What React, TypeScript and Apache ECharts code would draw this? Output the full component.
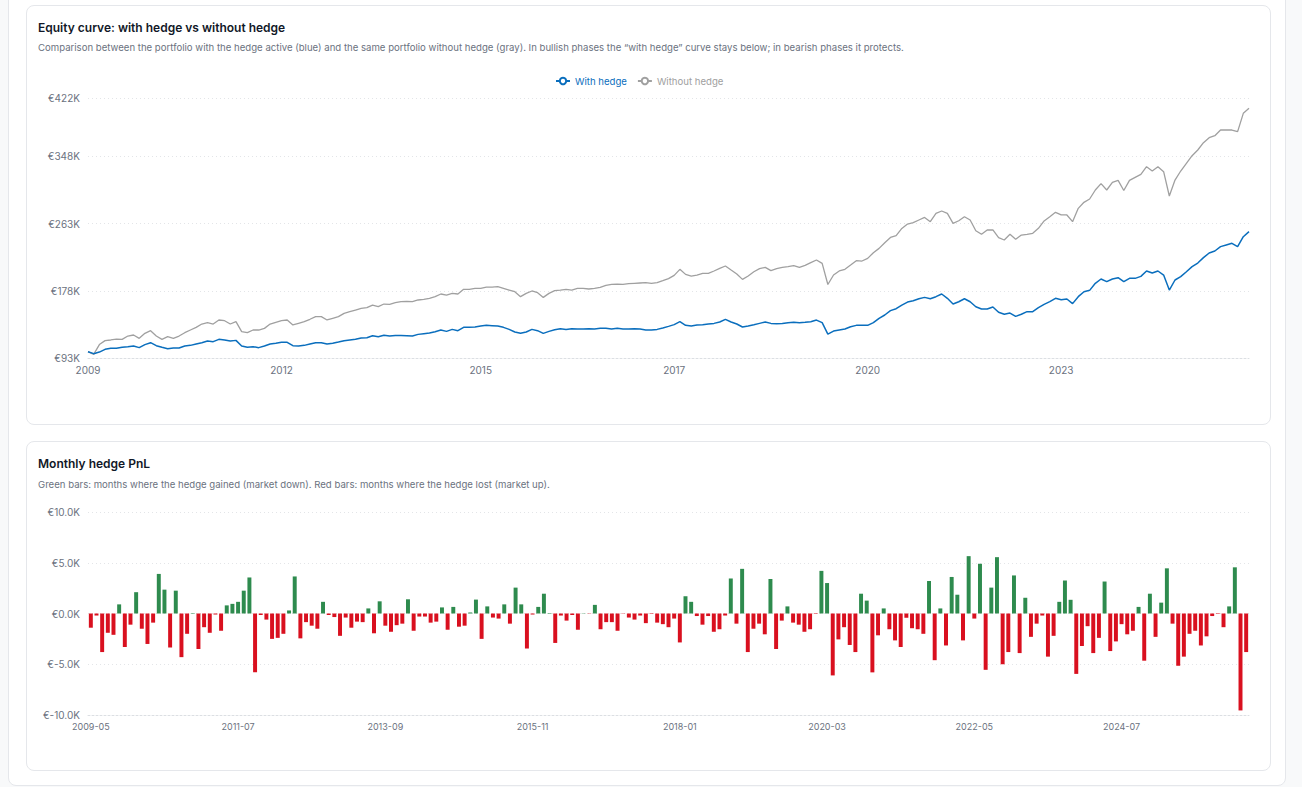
import React, { useEffect, useRef } from "react";
import * as echarts from "echarts";

// Monthly categories 2009-05 .. 2026-05
const months: string[] = [];
for (let k = 0; k < 205; k++) {
  const y = 2009 + Math.floor((4 + k) / 12);
  const m = ((4 + k) % 12) + 1;
  months.push(`${y}-${m < 10 ? "0" + m : m}`);
}

// Year tick positions shown on the equity chart (indices into months)
const equityYearTicks = [0, 34, 69, 103, 137, 171];

// Equity values in thousands of euro
const withHedge = [
  101, 98.5, 100.5, 104, 105.2, 105.2, 106.5, 107.3, 108.2, 106.1,
  109.9, 112.4, 108.6, 106.5, 104.8, 105.6, 105.6, 108.2, 109, 110.7,
  112.4, 114.5, 113.7, 116.6, 115.8, 114.5, 115.3, 108.2, 106.5, 107.3,
  106.1, 108.2, 110.7, 111.6, 112.8, 112.8, 108.6, 108.2, 109, 110.7,
  112.4, 112.4, 110.7, 111.6, 113.2, 114.9, 115.8, 116.6, 118.3, 118.7,
  121.2, 120, 121.7, 120.8, 121.6, 121.6, 121.2, 120.8, 122.9, 123.8,
  124.6, 126.3, 128.4, 126.7, 129.2, 127.6, 131.8, 131.8, 132.2, 133.5,
  134.3, 133.9, 133.5, 131.8, 129.2, 125.9, 124.2, 125.9, 129.2, 127.6,
  124.2, 126.7, 128.8, 130.1, 129.2, 130.1, 129.7, 129.7, 130.1, 129.7,
  130.5, 130.5, 129.7, 130.5, 129.7, 129.7, 130.1, 129.7, 128.4, 128.4,
  129.2, 130.9, 133, 135.2, 139, 134.3, 133.5, 134.7, 135.1, 136,
  136.8, 138.5, 141.9, 138.5, 136, 132.2, 133.5, 135.1, 136.8, 138.5,
  136.8, 136.4, 136.8, 137.7, 138.1, 137.7, 138.1, 138.9, 141, 137.7,
  123.3, 127.1, 128.4, 129.7, 132.6, 134.3, 134.3, 134.3, 137.7, 143.2,
  147.4, 152.9, 155.4, 160, 163.8, 165.5, 168, 169.7, 168, 170.6,
  174, 168.5, 161.3, 164.2, 168, 164.2, 157.9, 155, 155, 157.5,
  150.8, 148.3, 149.9, 145.7, 148.3, 151.6, 151.6, 156.7, 160.9, 164.3,
  168.5, 166.8, 167.7, 161.8, 170.6, 176.9, 178.6, 187.5, 193, 189.6,
  193, 194.6, 189.6, 193.8, 193.8, 196.3, 203.1, 200.6, 203.1, 198,
  179, 191.7, 195.9, 202.2, 208.6, 213.2, 220, 225.9, 228.4, 233.9,
  236, 238.1, 233.9, 246.5, 252.9,
];

const withoutHedge = [
  101, 97.5, 110, 115, 115.8, 117, 116.6, 120.8, 122.1, 117.9,
  124.2, 127.6, 120.8, 116.6, 120, 117.9, 120.8, 125, 128.4, 131.8,
  136, 137.7, 136, 141.1, 140.2, 136, 139, 126.3, 125, 128.4,
  128.4, 130.5, 136, 138.1, 140.2, 141.1, 134.8, 136.9, 139, 142,
  145.3, 145.3, 141.1, 143.2, 145.3, 149.5, 151.6, 153.7, 155.8, 156.7,
  160, 158, 161.3, 160.9, 163, 164.3, 164.7, 164.3, 166.4, 167.2,
  168.5, 170.6, 174, 172.7, 174.8, 174, 179.9, 179.9, 181.1, 181.1,
  182.8, 182.8, 183.2, 181.1, 179, 176.9, 170.6, 174.8, 177.8, 175.6,
  169.7, 174.8, 178.2, 179, 179.9, 179, 181.1, 181.1, 180.3, 181.1,
  182.4, 184.9, 186.2, 186.6, 186.2, 187, 187.5, 187.9, 188.3, 187.5,
  188.3, 190.8, 193.4, 197.6, 205.2, 198.8, 196.7, 198, 200.1, 200.1,
  203.1, 206.4, 209.4, 204.3, 199.3, 192.5, 196.7, 202.2, 206, 207.7,
  203.5, 206, 207.7, 208.5, 209.8, 207.7, 210.2, 213.6, 217, 212.7,
  186, 198, 203.1, 205.2, 210.6, 216.1, 215.7, 219.1, 226.2, 231.7,
  238.9, 245.6, 247.8, 257, 262.5, 264.2, 267.6, 270.9, 265.5, 276,
  279, 276, 263.4, 266.7, 271.8, 267.6, 254.1, 249.5, 255, 255,
  245.3, 242.3, 249.5, 243.2, 248.6, 249.5, 250.8, 257.1, 266.4, 271.8,
  277.3, 274, 274, 265.5, 282.4, 290, 294.2, 305.6, 313.6, 305.6,
  315.3, 317.8, 305, 317.8, 321.6, 325.4, 335.1, 329.6, 335.1, 328.8,
  298, 318.2, 329.6, 339.3, 349, 356.2, 365.5, 371.8, 374.3, 381.5,
  381.5, 381.5, 379.4, 402.6, 409,
];

// Monthly hedge PnL in thousands of euro
const hedgePnl = [
  -1.4, -0.2, -3.8, -1.9, -2.1, 0.9, -3.3, -1.1, 2.1, -1.5,
  -3.0, -0.9, 3.9, 2.35, -3.35, 2.25, -4.3, -2.0, 0.05, -3.5,
  -1.35, -1.9, -0.1, -1.7, 0.8, 0.95, 1.15, 2.25, 3.55, -5.8,
  -0.15, -0.6, -2.5, -2.4, -2.0, 0.3, 3.65, -2.45, -0.85, -1.2,
  -1.5, 1.15, -0.15, -0.35, -2.2, -0.4, -1.4, -0.8, -0.85, 0.5,
  -1.95, 1.2, -1.2, -1.8, -1.15, -1.0, 1.4, -1.7, -0.3, -0.3,
  -0.9, -0.8, 0.6, -1.6, 0.65, -1.3, -1.2, 0.1, 1.37, -2.5,
  0.7, -0.4, -0.5, 0.9, -1.0, 2.55, 0.9, -3.45, -0.1, 0.65,
  1.95, 0.05, -2.9, -0.2, -0.7, -0.15, -1.6, 0.03, -0.03, 0.85,
  -1.55, -0.85, -0.85, -1.7, -0.03, -0.4, -0.6, -0.2, -0.95, -0.05,
  -0.9, -1.05, -1.35, -0.5, -2.85, 1.7, 1.15, -0.25, -1.1, -0.25,
  -1.8, -1.55, -0.2, 3.45, -1.0, 4.4, -3.8, -1.5, -1.0, -2.05,
  3.4, -3.5, -0.7, 0.7, -0.9, -1.1, -1.8, -1.55, -0.05, 4.2,
  3.0, -6.1, -2.55, -1.35, -3.1, -3.8, 1.95, 1.27, -5.8, -2.15,
  0.5, -1.55, -2.65, -3.3, -0.42, -1.45, -1.55, -2.0, 3.2, -4.6,
  0.5, -3.15, 3.6, 1.85, -2.65, 5.65, -0.5, 4.9, -5.55, 2.55,
  5.55, -5.0, -3.8, 3.75, -3.9, 1.55, -2.3, -1.0, -0.2, -4.25,
  -2.2, 1.15, 3.25, 1.35, -5.95, -3.2, -1.25, -3.9, -2.4, 3.15,
  -3.7, -2.75, -1.05, -2.05, -1.7, 0.65, -4.65, 1.95, -2.3, 1.07,
  4.45, -1.0, -5.15, -4.25, -2.0, -1.7, -3.15, -2.25, -0.25, -0.05,
  -1.35, 0.7, 4.55, -9.55, -3.8,
];

const BLUE = "#0a6ebd";
const GRAY = "#a0a0a0";
const GREEN = "#2e8b4e";
const RED = "#d9101f";
const LABEL = "#6b7280";
const GRIDLINE = "#e3e5e8";
const FONT = "Inter, 'Noto Sans', sans-serif";

export default function App() {
  const ref = useRef<HTMLDivElement>(null);

  useEffect(() => {
    if (!ref.current) return;
    const chart = echarts.init(ref.current, undefined, { renderer: "svg" });
    const tickSet = new Set(equityYearTicks);
    const option: any = {
      animation: false,
      textStyle: { fontFamily: FONT },
      title: [
        {
          text: "Equity curve: with hedge vs without hedge",
          subtext:
            "Comparison between the portfolio with the hedge active (blue) and the same portfolio without hedge (gray). In bullish phases the \u201cwith hedge\u201d curve stays below; in bearish phases it protects.",
          left: 33,
          top: 16,
          itemGap: 9,
          textStyle: { fontSize: 12, fontWeight: 600, color: "#111827", fontFamily: FONT },
          subtextStyle: { fontSize: 9.6, color: LABEL, fontFamily: FONT },
        },
        {
          text: "Monthly hedge PnL",
          subtext:
            "Green bars: months where the hedge gained (market down). Red bars: months where the hedge lost (market up).",
          left: 33,
          top: 452,
          itemGap: 10,
          textStyle: { fontSize: 12, fontWeight: 600, color: "#111827", fontFamily: FONT },
          subtextStyle: { fontSize: 9.6, color: LABEL, fontFamily: FONT },
        },
      ],
      legend: {
        left: 550,
        top: 71,
        itemWidth: 14,
        itemHeight: 8,
        itemGap: 10,
        textStyle: { fontSize: 9.6, fontFamily: FONT },
        data: [
          { name: "With hedge", textStyle: { color: BLUE } },
          { name: "Without hedge", textStyle: { color: GRAY } },
        ],
      },
      grid: [
        { left: 88, right: 53, top: 98, height: 260 },
        { left: 88, right: 53, top: 512, height: 203 },
      ],
      xAxis: [
        {
          type: "category",
          gridIndex: 0,
          data: months,
          boundaryGap: false,
          axisTick: { show: false },
          axisLine: { show: true, lineStyle: { color: "#dcdfe3", type: [2, 2] } },
          axisLabel: {
            interval: (idx: number) => tickSet.has(idx),
            formatter: (v: string) => v.slice(0, 4),
            color: LABEL,
            fontSize: 10,
            margin: 7,
          },
          splitLine: { show: false },
        },
        {
          type: "category",
          gridIndex: 1,
          data: months,
          axisTick: { show: false },
          axisLine: { show: true, onZero: false, lineStyle: { color: "#dcdfe3", type: [2, 2] } },
          axisLabel: { interval: 25, color: LABEL, fontSize: 9, margin: 7 },
          splitLine: { show: false },
        },
      ],
      yAxis: [
        {
          type: "value",
          gridIndex: 0,
          min: 93,
          max: 422,
          interval: 85,
          axisLine: { show: false },
          axisTick: { show: false },
          axisLabel: { formatter: (v: number) => `\u20ac${Math.round(v)}K`, color: LABEL, fontSize: 10, margin: 8 },
          splitLine: { lineStyle: { color: GRIDLINE, type: [1, 3] } },
        },
        {
          type: "value",
          gridIndex: 1,
          min: -10,
          max: 10,
          interval: 5,
          axisLine: { show: false },
          axisTick: { show: false },
          axisLabel: { formatter: (v: number) => `\u20ac${v.toFixed(1)}K`, color: LABEL, fontSize: 10, margin: 8 },
          splitLine: { lineStyle: { color: GRIDLINE, type: [1, 3] } },
        },
      ],
      series: [
        {
          name: "Without hedge",
          type: "line",
          xAxisIndex: 0,
          yAxisIndex: 0,
          data: withoutHedge,
          showSymbol: false,
          symbol: "emptyCircle",
          symbolSize: 5,
          itemStyle: { color: GRAY },
          lineStyle: { color: GRAY, width: 1.3 },
          z: 2,
        },
        {
          name: "With hedge",
          type: "line",
          xAxisIndex: 0,
          yAxisIndex: 0,
          data: withHedge,
          showSymbol: false,
          symbol: "emptyCircle",
          symbolSize: 5,
          itemStyle: { color: BLUE },
          lineStyle: { color: BLUE, width: 1.5 },
          z: 3,
        },
        {
          name: "Hedge PnL",
          type: "bar",
          xAxisIndex: 1,
          yAxisIndex: 1,
          barWidth: "70%",
          data: hedgePnl.map((v) => ({ value: v, itemStyle: { color: v >= 0 ? GREEN : RED } })),
        },
      ],
    };
    chart.setOption(option);
    return () => chart.dispose();
  }, []);

  const card: React.CSSProperties = {
    position: "absolute",
    left: 26,
    width: 1245,
    background: "#fff",
    border: "1px solid #e5e7eb",
    borderRadius: 8,
    boxSizing: "border-box",
  };

  return (
    <div style={{ position: "absolute", left: 0, top: 0, width: 1302, height: 787, overflow: "hidden", background: "#f8f9fa" }}>
      <div
        style={{
          position: "absolute",
          left: 8,
          top: -12,
          width: 1278,
          height: 798,
          background: "#fff",
          border: "1px solid #e5e7eb",
          borderRadius: 8,
          boxSizing: "border-box",
        }}
      />
      <div style={{ ...card, top: 5, height: 420 }} />
      <div style={{ ...card, top: 441, height: 330 }} />
      <div ref={ref} style={{ position: "absolute", left: 0, top: 0, width: 1302, height: 787 }} />
    </div>
  );
}
